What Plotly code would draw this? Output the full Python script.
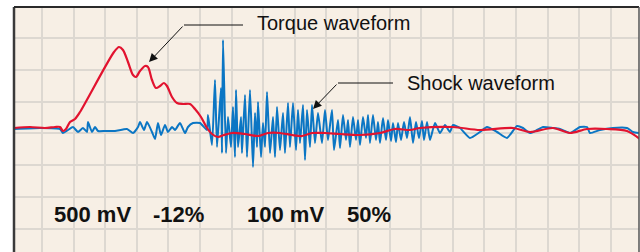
import plotly.graph_objects as go

# Torque waveform (red): time (ms-like units), amplitude
torque_t = [0, 16, 31, 41, 46, 49, 52, 56, 61, 66, 100, 105, 109, 114, 119, 122, 126, 131, 134, 138,
            142, 146, 150, 153, 158, 163, 169, 176, 181, 187, 193, 198, 204, 210, 218, 231, 244, 254,
            266, 278, 288, 298, 311, 326, 346, 366, 381, 396, 406, 439, 466, 499, 516, 539, 556, 573,
            593, 613, 626]
torque_a = [0, 1, 0, 1, 1, -3, -1, 6, 9, 16, 76, 81, 78, 66, 53, 51, 57, 62, 61, 48,
            40, 42, 45, 42, 31, 25, 24, 24, 19, 11, 0, -6, -9, -7, -5, -6, -8, -5,
            -5, -7, -8, -5, -5, -6, -7, -5, -1, -2, 0, 1, -2, 0, -4, 0, -5, -1,
            -1, -3, -11]

# Shock waveform (blue)
shock_t = [0, 26, 46, 49, 54, 59, 64, 69, 73, 74, 78, 81, 84, 91, 101, 113, 119, 124, 126, 130,
           133, 138, 141, 144, 147, 151, 154, 158, 161, 166, 171, 174, 179, 186, 193,
           194, 198, 201, 203, 207, 208, 209, 212, 214, 217, 219, 221, 222, 224, 227, 228, 231, 233,
           236, 239, 241, 243, 244, 247, 249, 251, 253, 256, 259, 261, 263, 266, 269, 271, 274, 276,
           279, 282, 284, 286, 289, 291, 293, 296, 298, 301, 304, 308, 311, 314, 318, 320, 324, 326,
           329, 332, 334, 336, 339, 342, 344, 346, 349, 352, 354, 356, 359, 362, 364, 366, 369, 372,
           374, 377, 379, 382, 384, 387, 390, 393, 396, 399, 402, 405, 408, 410, 413, 416, 421, 426,
           431, 436, 439, 446, 456, 466, 473, 483, 493, 503, 509, 516, 523, 529, 539, 546, 556, 566,
           573, 576, 586, 599, 613, 619, 625]
shock_a = [-1, 0, -1, -5, -2, 1, -4, 0, -4, 6, -4, 1, -3, -3, -3, -1, -5, 1, 6, -2,
           6, -4, -11, 5, -7, 3, -4, 1, -2, 5, -5, 1, 5, 5, -2,
           13, -17, 48, -19, 40, -25, 88, -25, 11, -19, 21, -29, 38, -19, 11, -25, 33, -29,
           38, -39, 15, -19, 26, -29, 5, -19, 36, -25, 11, -29, 21, -22, 15, -25, 25, -19,
           25, -22, 18, -15, 23, -32, 18, -19, 23, -15, 15, -15, 18, -12, 18, -22, 8, -20,
           13, -12, 8, -19, 11, -12, 8, -17, 11, -10, 13, -15, 13, -12, 6, -15, 10, -12,
           8, -13, 5, -14, 5, -12, 6, -10, 11, -15, 6, -10, 7, -12, 6, -12, 5, -5,
           3, -4, 3, 0, -10, -4, 1, -4, -10, 2, 0, -5, -2, 1, 0, -1, -5, 1,
           1, -5, -2, 0, 0, -4, -5]

# Callout lines (horizontal leader then diagonal to arrow tip)
torque_call_t = [229, 170]
torque_call_a = [103, 103]
torque_tip = (135, 66)
shock_call_t = [379, 324]
shock_call_a = [45, 45]
shock_tip = (299, 19)

labels = ["500 mV", "-12%", "100 mV", "50%"]
labels_t = [38, 137, 231, 331]

RED = "#e2132f"
BLUE = "#0b76c4"

fig = go.Figure()
fig.add_trace(go.Scatter(x=shock_t, y=shock_a, mode="lines",
                         line=dict(color=BLUE, width=2, shape="spline", smoothing=0.5),
                         hoverinfo="skip"))
fig.add_trace(go.Scatter(x=torque_t, y=torque_a, mode="lines",
                         line=dict(color=RED, width=2.2, shape="spline", smoothing=0.8),
                         hoverinfo="skip"))
for xs, ys in [(torque_call_t, torque_call_a), (shock_call_t, shock_call_a)]:
    fig.add_trace(go.Scatter(x=xs, y=ys, mode="lines", line=dict(color="#111111", width=1),
                             hoverinfo="skip"))

ann = []
for (xs, ys), tip in [((torque_call_t, torque_call_a), torque_tip),
                      ((shock_call_t, shock_call_a), shock_tip)]:
    ann.append(dict(x=tip[0], y=tip[1], ax=xs[-1], ay=ys[-1], xref="x", yref="y",
                    axref="x", ayref="y", text="", showarrow=True, arrowhead=2,
                    arrowsize=1.7, arrowwidth=1, arrowcolor="#111111"))
ann.append(dict(x=241, y=105, xref="x", yref="y", text="Torque waveform", showarrow=False,
                xanchor="left", yanchor="middle",
                font=dict(family="Liberation Sans, Arial, sans-serif", size=20, color="#111111")))
ann.append(dict(x=391, y=45, xref="x", yref="y", text="Shock waveform", showarrow=False,
                xanchor="left", yanchor="middle",
                font=dict(family="Liberation Sans, Arial, sans-serif", size=20, color="#111111")))
for lab, lt in zip(labels, labels_t):
    ann.append(dict(x=lt, y=-86, xref="x", yref="y", text="<b>%s</b>" % lab, showarrow=False,
                    xanchor="left", yanchor="middle",
                    font=dict(family="Liberation Sans, Arial, sans-serif", size=22, color="#111111")))

shapes = [
    dict(type="line", xref="paper", yref="paper", x0=0, x1=0, y0=0, y1=1,
         line=dict(color="#3a3a3a", width=2.5)),
    dict(type="line", xref="paper", yref="paper", x0=0, x1=1, y0=1, y1=1,
         line=dict(color="#2a2a2a", width=2)),
    dict(type="line", xref="paper", yref="paper", x0=1, x1=1, y0=0, y1=1,
         line=dict(color="#555555", width=1.5)),
]

fig.update_layout(
    width=640, height=252,
    margin=dict(l=14, r=1, t=7, b=0),
    paper_bgcolor="white", plot_bgcolor="#f7efe5",
    showlegend=False,
    annotations=ann, shapes=shapes,
    xaxis=dict(range=[0, 625], showgrid=True, gridcolor="#ddd8d1", gridwidth=1.5,
               tick0=28, dtick=31.6, showticklabels=False, zeroline=False, ticks="",
               fixedrange=True),
    yaxis=dict(range=[-124, 121], showgrid=True, gridcolor="#ddd8d1", gridwidth=1.5,
               tick0=-5.4, dtick=31.9, showticklabels=False, zeroline=False, ticks="",
               fixedrange=True),
)

fig.write_html("out.html", config={"displayModeBar": False},
               post_script="document.body.style.margin='0';document.body.style.padding='0';"
                           "document.body.style.overflow='hidden';")
